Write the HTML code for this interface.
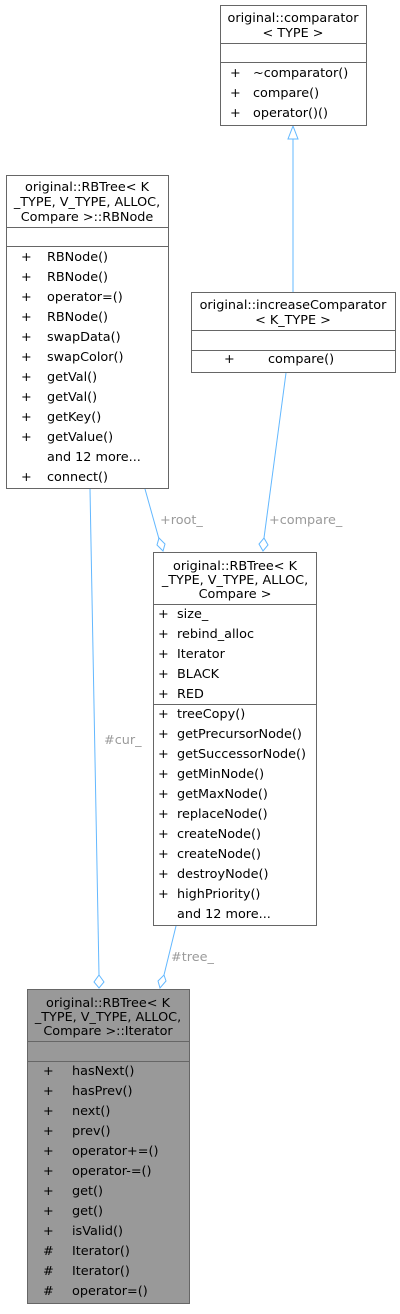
<!DOCTYPE html>
<html><head><meta charset="utf-8"><style>
body{margin:0;background:#fff}
svg text{font-family:"DejaVu Sans","Liberation Sans",sans-serif;font-size:12.8px;fill:#000}
.l{fill:#9a9a9a!important}
</style></head><body>
<svg width="400" height="1309" viewBox="0 0 400 1309" xmlns="http://www.w3.org/2000/svg">
<g stroke="#63b8ff" stroke-width="1" fill="none">
<line x1="293" y1="139" x2="293" y2="292"/>
<line x1="286" y1="373" x2="264" y2="538"/>
<line x1="145" y1="489" x2="159" y2="539"/>
<line x1="90" y1="489" x2="99" y2="975"/>
<line x1="176" y1="926" x2="164" y2="975"/>
</g>
<polygon points="293,126 288,139 298,139" fill="#fff" stroke="#63b8ff"/>
<g fill="#fff" stroke="#63b8ff">
<polygon points="264,538 268,545 263,551 259,544"/>
<polygon points="159,538 165,544 163,551 157,545"/>
<polygon points="99,975 104,982 99,988 94,982"/>
<polygon points="164,975 166,981 160,988 158,981"/>
</g>
<text class="l" x="160" y="524">+root_</text>
<text class="l" x="269" y="524">+compare_</text>
<text class="l" x="104" y="744">#cur_</text>
<text class="l" x="171" y="961">#tree_</text>

<g stroke="#666" fill="#fff">
<rect x="220.5" y="5.5" width="146" height="120"/>
<line x1="220" y1="43.5" x2="366" y2="43.5"/><line x1="220" y1="62.5" x2="366" y2="62.5"/>
<rect x="191.5" y="292.5" width="204" height="80"/>
<line x1="191" y1="330.5" x2="395" y2="330.5"/><line x1="191" y1="350.5" x2="395" y2="350.5"/>
<rect x="6.5" y="175.5" width="162" height="313"/>
<line x1="6" y1="227.5" x2="168" y2="227.5"/><line x1="6" y1="246.5" x2="168" y2="246.5"/>
<rect x="153.5" y="552.5" width="163" height="373"/>
<line x1="153" y1="604.5" x2="316" y2="604.5"/><line x1="153" y1="704.5" x2="316" y2="704.5"/>
<rect x="27.5" y="989.5" width="162" height="314" fill="#999"/>
<line x1="27" y1="1041.5" x2="189" y2="1041.5"/><line x1="27" y1="1061.5" x2="189" y2="1061.5"/>
</g>

<g text-anchor="middle">
<text x="293" y="22">original::comparator</text>
<text x="293" y="37">&lt; TYPE &gt;</text>
<text x="293" y="309">original::increaseComparator</text>
<text x="293" y="324">&lt; K_TYPE &gt;</text>
<text x="87" y="191">original::RBTree&lt; K</text>
<text x="87" y="206">_TYPE, V_TYPE, ALLOC,</text>
<text x="87" y="221">Compare &gt;::RBNode</text>
<text x="235" y="570">original::RBTree&lt; K</text>
<text x="235" y="584">_TYPE, V_TYPE, ALLOC,</text>
<text x="235" y="598">Compare &gt;</text>
<text x="108" y="1007">original::RBTree&lt; K</text>
<text x="108" y="1021">_TYPE, V_TYPE, ALLOC,</text>
<text x="108" y="1035">Compare &gt;::Iterator</text>
</g>

<text x="230" y="77">+</text><text x="253" y="77">~comparator()</text>
<text x="230" y="97">+</text><text x="253" y="97">compare()</text>
<text x="230" y="117">+</text><text x="253" y="117">operator()()</text>
<text x="224" y="363">+</text><text x="268" y="363">compare()</text>

<g>
<text x="21" y="261">+</text><text x="47" y="261">RBNode()</text>
<text x="21" y="281">+</text><text x="47" y="281">RBNode()</text>
<text x="21" y="301">+</text><text x="47" y="301">operator=()</text>
<text x="21" y="321">+</text><text x="47" y="321">RBNode()</text>
<text x="21" y="341">+</text><text x="47" y="341">swapData()</text>
<text x="21" y="361">+</text><text x="47" y="361">swapColor()</text>
<text x="21" y="381">+</text><text x="47" y="381">getVal()</text>
<text x="21" y="401">+</text><text x="47" y="401">getVal()</text>
<text x="21" y="421">+</text><text x="47" y="421">getKey()</text>
<text x="21" y="441">+</text><text x="47" y="441">getValue()</text>
<text x="47" y="461">and 12 more...</text>
<text x="21" y="481">+</text><text x="47" y="481">connect()</text>
</g>

<g>
<text x="158" y="618">+</text><text x="177" y="618">size_</text>
<text x="158" y="638">+</text><text x="177" y="638">rebind_alloc</text>
<text x="158" y="658">+</text><text x="177" y="658">Iterator</text>
<text x="158" y="678">+</text><text x="177" y="678">BLACK</text>
<text x="158" y="698">+</text><text x="177" y="698">RED</text>
<text x="158" y="718">+</text><text x="177" y="718">treeCopy()</text>
<text x="158" y="738">+</text><text x="177" y="738">getPrecursorNode()</text>
<text x="158" y="758">+</text><text x="177" y="758">getSuccessorNode()</text>
<text x="158" y="778">+</text><text x="177" y="778">getMinNode()</text>
<text x="158" y="798">+</text><text x="177" y="798">getMaxNode()</text>
<text x="158" y="818">+</text><text x="177" y="818">replaceNode()</text>
<text x="158" y="838">+</text><text x="177" y="838">createNode()</text>
<text x="158" y="858">+</text><text x="177" y="858">createNode()</text>
<text x="158" y="878">+</text><text x="177" y="878">destroyNode()</text>
<text x="158" y="898">+</text><text x="177" y="898">highPriority()</text>
<text x="177" y="918">and 12 more...</text>
</g>

<g>
<text x="43" y="1075">+</text><text x="72" y="1075">hasNext()</text>
<text x="43" y="1095">+</text><text x="72" y="1095">hasPrev()</text>
<text x="43" y="1115">+</text><text x="72" y="1115">next()</text>
<text x="43" y="1135">+</text><text x="72" y="1135">prev()</text>
<text x="43" y="1155">+</text><text x="72" y="1155">operator+=()</text>
<text x="43" y="1175">+</text><text x="72" y="1175">operator-=()</text>
<text x="43" y="1195">+</text><text x="72" y="1195">get()</text>
<text x="43" y="1215">+</text><text x="72" y="1215">get()</text>
<text x="43" y="1235">+</text><text x="72" y="1235">isValid()</text>
<text x="43" y="1255">#</text><text x="72" y="1255">Iterator()</text>
<text x="43" y="1275">#</text><text x="72" y="1275">Iterator()</text>
<text x="43" y="1295">#</text><text x="72" y="1295">operator=()</text>
</g>
</svg>
</body></html>
